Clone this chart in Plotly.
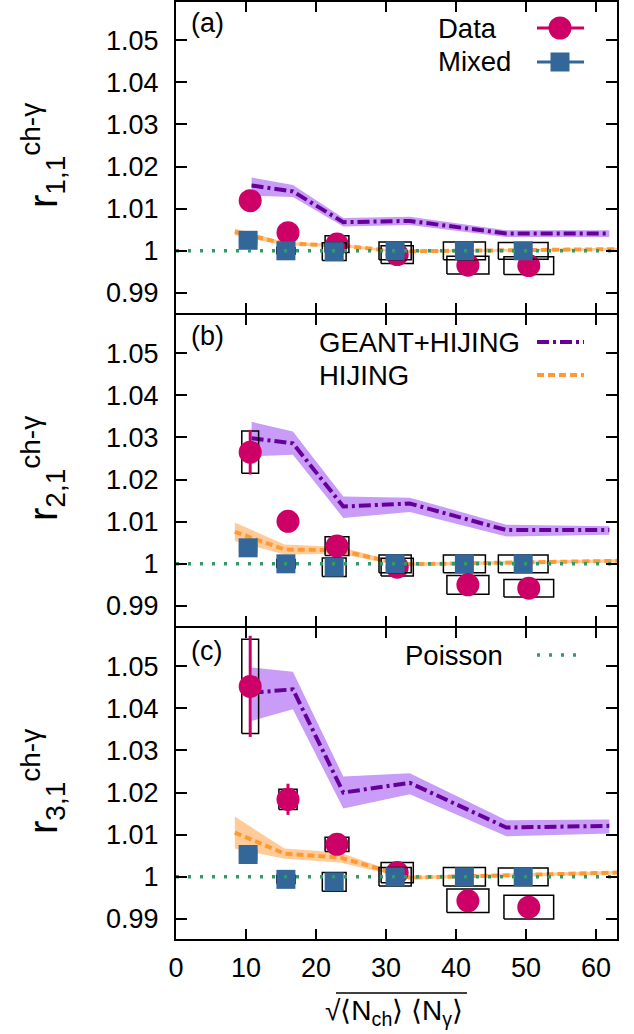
import plotly.graph_objects as go
from plotly.subplots import make_subplots

# ---------------- data ----------------
x_data = [10.6, 16.0, 23.0, 31.6, 41.7, 50.4]
x_mixed = [10.3, 15.7, 22.6, 31.3, 41.2, 49.6]
x_syst_half = [1.2, 1.3, 1.7, 2.3, 3.0, 3.55]

data_a = [1.0119, 1.0043, 1.0016, 0.9991, 0.9966, 0.9965]
data_b = [1.0265, 1.0101, 1.0042, 0.9992, 0.9950, 0.9942]
data_c = [1.0452, 1.0184, 1.0077, 1.0010, 0.9943, 0.9928]
stat_a = [0.0005, 0.0005, 0.0004, 0.0004, 0.0003, 0.0003]
stat_b = [0.0053, 0.0010, 0.0006, 0.0005, 0.0005, 0.0005]
stat_c = [0.0120, 0.0037, 0.0010, 0.0008, 0.0006, 0.0006]
syst_a = [0.0012, 0.0012, 0.0020, 0.0021, 0.0021, 0.0021]
syst_b = [0.0050, 0.0012, 0.0022, 0.0021, 0.0022, 0.0021]
syst_c = [0.0112, 0.0024, 0.0017, 0.0024, 0.0028, 0.0028]

mixed_a = [1.0025, 1.0000, 0.9998, 1.0000, 1.0000, 1.0000]
mixed_b = [1.0038, 1.0000, 0.9992, 1.0000, 1.0000, 1.0000]
mixed_c = [1.0053, 0.9994, 0.9988, 1.0000, 1.0000, 1.0000]
msyst_a = [0.0008, 0.0008, 0.0021, 0.0021, 0.0021, 0.0020]
msyst_b = [0.0010, 0.0010, 0.0022, 0.0021, 0.0021, 0.0021]
msyst_c = [0.0010, 0.0010, 0.0022, 0.0022, 0.0022, 0.0021]

geant_x = [10.8, 16.7, 23.9, 33.4, 47.2, 61.9]
geant_a = [1.0155, 1.0141, 1.0068, 1.0071, 1.0041, 1.0041]
geant_a_lo = [1.0131, 1.0128, 1.0058, 1.0061, 1.0033, 1.0033]
geant_a_hi = [1.0174, 1.0156, 1.0078, 1.0081, 1.0049, 1.0049]
geant_b = [1.0298, 1.0286, 1.0136, 1.0143, 1.0080, 1.0080]
geant_b_lo = [1.0255, 1.0259, 1.0109, 1.0123, 1.0065, 1.0069]
geant_b_hi = [1.0337, 1.0314, 1.0160, 1.0157, 1.0093, 1.0089]
geant_c = [1.0437, 1.0445, 1.0200, 1.0223, 1.0117, 1.0121]
geant_c_lo = [1.0370, 1.0398, 1.0162, 1.0196, 1.0096, 1.0103]
geant_c_hi = [1.0497, 1.0487, 1.0238, 1.0246, 1.0134, 1.0136]

hij_x = [8.4, 15.5, 23.4, 29.5, 33.4, 63.0]
hij_a = [1.0045, 1.0017, 1.0013, 1.0002, 0.9999, 1.0004]
hij_b = [1.0076, 1.0034, 1.0032, 1.0009, 0.9999, 1.0007]
hij_c = [1.0105, 1.0055, 1.0046, 1.0016, 0.9998, 1.0010]
hij_err_a = [0.0008, 0.0004, 0.0004, 0.0003, 0.0003, 0.0003]
hij_err_b = [0.0022, 0.0012, 0.0008, 0.0005, 0.0004, 0.0004]
hij_err_c = [0.0038, 0.0012, 0.0012, 0.0006, 0.0004, 0.0004]

poisson_x = [0, 63]
poisson_y = [1.0, 1.0]

x_ticks = [0, 10, 20, 30, 40, 50, 60]
y_ticks = [0.99, 1.0, 1.01, 1.02, 1.03, 1.04, 1.05]
y_ticktext = ["0.99", "1", "1.01", "1.02", "1.03", "1.04", "1.05"]
panel_tags = ["(a)", "(b)", "(c)"]
y_titles = ["r<sub>1,1</sub><sup>ch-γ</sup>", "r<sub>2,1</sub><sup>ch-γ</sup>", "r<sub>3,1</sub><sup>ch-γ</sup>"]

# ---------------- style ----------------
C_DATA = "#cc0066"
C_MIX = "#336699"
C_GEANT = "#660099"
C_GEANT_BAND = "#c99cf7"
C_HIJ = "#ff9933"
C_HIJ_BAND = "#ffcc99"
C_POIS = "#339966"
FONT = "Liberation Sans"
DASH_GEANT = "12px,4px,3px,4px"
DASH_HIJ = "7px,4px"
DASH_POIS = "3px,9px"

W, H = 634, 1034
ML, MR, MT, MB = 176, 17, 1, 94
PW, PH = W - ML - MR, H - MT - MB


def px_x(px):
    return (px - ML) / PW


def px_y(py):
    return (H - MB - py) / PH


def box_path(xs, ys, hx, hy):
    bx, by = [], []
    for x, y, dx, dy in zip(xs, ys, hx, hy):
        bx += [x - dx, x + dx, x + dx, x - dx, x - dx, None]
        by += [y - dy, y - dy, y + dy, y + dy, y - dy, None]
    return bx, by


fig = make_subplots(rows=3, cols=1, vertical_spacing=0, shared_xaxes=False)

panels = [
    (data_a, stat_a, syst_a, mixed_a, msyst_a, geant_a, geant_a_lo, geant_a_hi, hij_a, hij_err_a),
    (data_b, stat_b, syst_b, mixed_b, msyst_b, geant_b, geant_b_lo, geant_b_hi, hij_b, hij_err_b),
    (data_c, stat_c, syst_c, mixed_c, msyst_c, geant_c, geant_c_lo, geant_c_hi, hij_c, hij_err_c),
]

for i, (d, st, sy, m, msy, g, glo, ghi, h, herr) in enumerate(panels):
    row = i + 1
    fig.add_trace(go.Scatter(x=geant_x + geant_x[::-1], y=ghi + glo[::-1], fill="toself",
                             fillcolor=C_GEANT_BAND, line=dict(width=0), mode="lines",
                             hoverinfo="skip", showlegend=False), row=row, col=1)
    hhi = [a + b for a, b in zip(h, herr)]
    hlo = [a - b for a, b in zip(h, herr)]
    fig.add_trace(go.Scatter(x=hij_x + hij_x[::-1], y=hhi + hlo[::-1], fill="toself",
                             fillcolor=C_HIJ_BAND, line=dict(width=0), mode="lines",
                             hoverinfo="skip", showlegend=False), row=row, col=1)
    fig.add_trace(go.Scatter(x=geant_x, y=g, mode="lines",
                             line=dict(color=C_GEANT, width=4, dash=DASH_GEANT),
                             showlegend=False), row=row, col=1)
    fig.add_trace(go.Scatter(x=hij_x, y=h, mode="lines",
                             line=dict(color=C_HIJ, width=4, dash=DASH_HIJ),
                             showlegend=False), row=row, col=1)
    bx, by = box_path(x_data, d, x_syst_half, sy)
    fig.add_trace(go.Scatter(x=bx, y=by, mode="lines", line=dict(color="black", width=1.5),
                             hoverinfo="skip", showlegend=False), row=row, col=1)
    fig.add_trace(go.Scatter(x=x_data, y=d, mode="markers",
                             marker=dict(symbol="circle", size=23, color=C_DATA),
                             error_y=dict(type="data", array=st, color=C_DATA, thickness=3, width=0),
                             showlegend=False), row=row, col=1)
    bx, by = box_path(x_mixed, m, x_syst_half, msy)
    fig.add_trace(go.Scatter(x=bx, y=by, mode="lines", line=dict(color="black", width=1.5),
                             hoverinfo="skip", showlegend=False), row=row, col=1)
    fig.add_trace(go.Scatter(x=x_mixed, y=m, mode="markers",
                             marker=dict(symbol="square", size=19, color=C_MIX),
                             showlegend=False), row=row, col=1)
    fig.add_trace(go.Scatter(x=poisson_x, y=poisson_y, mode="lines",
                             line=dict(color=C_POIS, width=3.5, dash=DASH_POIS),
                             showlegend=False), row=row, col=1)

    fig.update_xaxes(range=[0, 63], tickvals=x_ticks, showticklabels=(row == 3),
                     ticks="inside", ticklen=11, tickwidth=1.5, tickcolor="black",
                     showline=True, linecolor="black", linewidth=1, mirror="ticks",
                     showgrid=False, zeroline=False, ticklabelstandoff=4,
                     tickfont=dict(family=FONT, size=27, color="black"), row=row, col=1)
    fig.update_yaxes(range=[0.985, 1.0593], tickvals=y_ticks, ticktext=y_ticktext,
                     ticks="inside", ticklen=11, tickwidth=1.5, tickcolor="black",
                     showline=True, linecolor="black", linewidth=2, mirror="ticks",
                     showgrid=False, zeroline=False, ticklabelstandoff=10,
                     tickfont=dict(family=FONT, size=27, color="black"), row=row, col=1)

annotations = []
shapes = []
shapes.append(dict(type="line", xref="paper", yref="paper", x0=0, x1=1, y0=1, y1=1,
                   line=dict(color="black", width=2)))
shapes.append(dict(type="line", xref="paper", yref="paper", x0=0, x1=1, y0=0, y1=0,
                   line=dict(color="black", width=2)))

panel_centers = [156, 469, 782]
tag_y = [23, 336, 651]
for i in range(3):
    annotations.append(dict(text=panel_tags[i], x=px_x(189), y=px_y(tag_y[i]), xref="paper", yref="paper",
                            xanchor="left", yanchor="middle", showarrow=False,
                            font=dict(family=FONT, size=27, color="black")))
    annotations.append(dict(text=y_titles[i], x=px_x(43), y=px_y(panel_centers[i]), xref="paper",
                            yref="paper", xanchor="center", yanchor="middle", textangle=-90,
                            showarrow=False, font=dict(family=FONT, size=40, color="black")))

leg_font = dict(family=FONT, size=27.5, color="black")
legend_rows = [
    ("Data", 436, 28), ("Mixed", 436, 62),
    ("GEANT+HIJING", 317, 342), ("HIJING", 317, 375),
    ("Poisson", 403, 655),
]
for txt, lx, ly in legend_rows:
    annotations.append(dict(text=txt, x=px_x(lx), y=px_y(ly), xref="paper", yref="paper",
                            xanchor="left", yanchor="middle", showarrow=False, font=leg_font))

sx0, sx1, sxc = px_x(537), px_x(584), px_x(560)
shapes.append(dict(type="line", xref="paper", yref="paper", x0=sx0, x1=sx1, y0=px_y(28), y1=px_y(28),
                   line=dict(color=C_DATA, width=3)))
shapes.append(dict(type="circle", xref="paper", yref="paper", xsizemode="pixel", ysizemode="pixel",
                   xanchor=sxc, yanchor=px_y(28), x0=-11.5, x1=11.5, y0=-11.5, y1=11.5,
                   fillcolor=C_DATA, line=dict(width=0)))
shapes.append(dict(type="line", xref="paper", yref="paper", x0=sx0, x1=sx1, y0=px_y(62), y1=px_y(62),
                   line=dict(color=C_MIX, width=3)))
shapes.append(dict(type="rect", xref="paper", yref="paper", xsizemode="pixel", ysizemode="pixel",
                   xanchor=sxc, yanchor=px_y(62), x0=-9.5, x1=9.5, y0=-9.5, y1=9.5,
                   fillcolor=C_MIX, line=dict(width=0)))
shapes.append(dict(type="line", xref="paper", yref="paper", x0=sx0, x1=sx1, y0=px_y(342), y1=px_y(342),
                   line=dict(color=C_GEANT, width=4, dash=DASH_GEANT)))
shapes.append(dict(type="line", xref="paper", yref="paper", x0=sx0, x1=sx1, y0=px_y(375), y1=px_y(375),
                   line=dict(color=C_HIJ, width=4, dash=DASH_HIJ)))
shapes.append(dict(type="line", xref="paper", yref="paper", x0=sx0, x1=sx1, y0=px_y(655), y1=px_y(655),
                   line=dict(color=C_POIS, width=3.5, dash=DASH_POIS)))

annotations.append(dict(text="√⟨N<sub>ch</sub>⟩ ⟨N<sub>γ</sub>⟩", x=px_x(394), y=px_y(1013),
                        xref="paper", yref="paper", xanchor="center", yanchor="middle",
                        showarrow=False, font=dict(family=FONT, size=28, color="black")))
shapes.append(dict(type="line", xref="paper", yref="paper", x0=px_x(336), x1=px_x(467),
                   y0=px_y(993), y1=px_y(993), line=dict(color="black", width=1.5)))

fig.update_layout(width=W, height=H, margin=dict(l=ML, r=MR, t=MT, b=MB),
                  plot_bgcolor="white", paper_bgcolor="white",
                  annotations=annotations, shapes=shapes, showlegend=False)

fig.write_html("out.html", config={"displayModeBar": False},
               post_script="document.body.style.margin='0px';")
